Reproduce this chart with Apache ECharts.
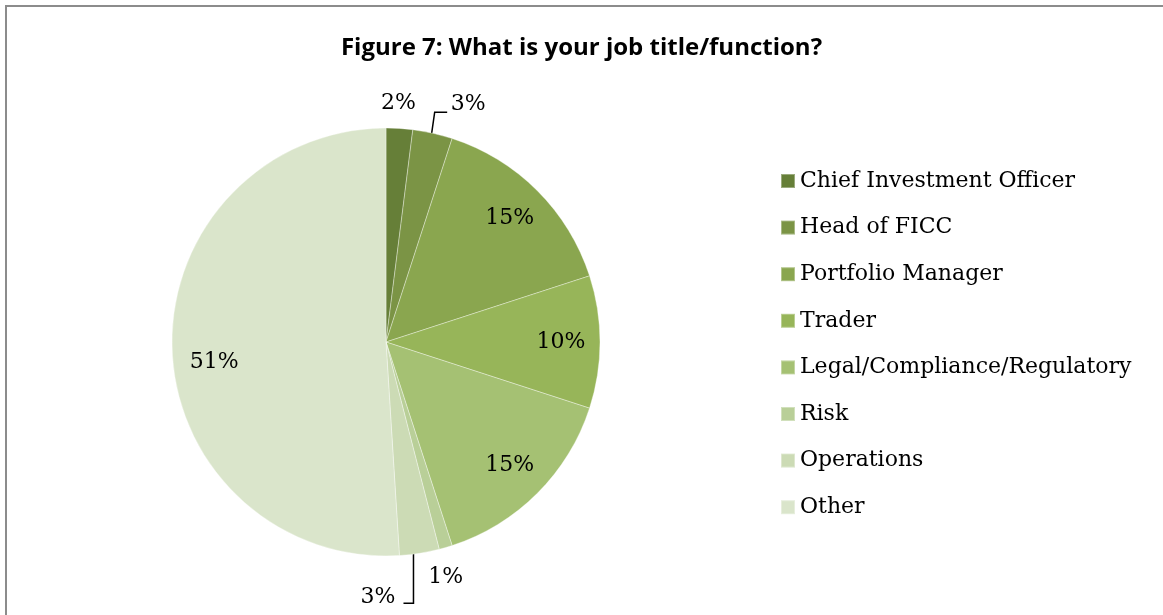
<!DOCTYPE html>
<html>
<head>
<meta charset="utf-8">
<title>Figure 7: What is your job title/function?</title>
<script src="https://cdn.jsdelivr.net/npm/echarts@6/dist/echarts.min.js"></script>
<style>
  html, body { margin: 0; padding: 0; background: #ffffff; overflow: hidden; }
  #frame {
    position: absolute; left: 5px; top: 5px; width: 1200px; height: 700px;
    border: 2px solid #8c8c8c; box-sizing: border-box;
  }
  #chart { position: absolute; left: 0; top: 0; width: 1163px; height: 615px; }
</style>
</head>
<body>
<div id="frame"></div>
<div id="chart"></div>
<script>
// Survey responses by job title / function (percent of respondents)
const categories = [
  'Chief Investment Officer',
  'Head of FICC',
  'Portfolio Manager',
  'Trader',
  'Legal/Compliance/Regulatory',
  'Risk',
  'Operations',
  'Other'
];
const shares = [2, 3, 15, 10, 15, 1, 3, 51];
const sliceColors = [
  '#667f38', '#7b9445', '#8aa64f', '#97b559',
  '#a5c173', '#b9cf98', '#ccdbb5', '#dae5cb'
];

const PIE_CENTER = [386, 342];
const PIE_RADIUS = 214;
const LABEL_FONT = '"DejaVu Serif", "Liberation Serif", serif';

const pieData = categories.map((name, i) => ({
  name: name,
  value: shares[i],
  itemStyle: { color: sliceColors[i] }
}));

// Small slices get their labels outside the pie; the big ones inside.
const isSmall = v => v < 10;

// Callout placement for the small slices, relative to the point where
// the slice's mid-angle meets the rim (first label-line point).
function placeCallout(params) {
  const pts = params.labelLinePoints;
  if (!pts) return {};
  const x0 = pts[0][0], y0 = pts[0][1];
  const flat = [[x0, y0], [x0, y0], [x0, y0]];
  switch (params.dataIndex) {
    case 0: // label straight above the slice, no leader
      return { x: x0 - 1, y: y0 - 25, align: 'center', verticalAlign: 'middle', labelLinePoints: flat };
    case 1: // short leader up then right
      return {
        x: x0 + 18, y: y0 - 29, align: 'left', verticalAlign: 'middle',
        labelLinePoints: [[x0 - 1, y0], [x0 + 2, y0 - 21], [x0 + 14.5, y0 - 21]]
      };
    case 5: // label straight below the slice, no leader
      return { x: x0, y: y0 + 30, align: 'center', verticalAlign: 'middle', labelLinePoints: flat };
    case 6: // leader down then left
      return {
        x: x0 - 24, y: y0 + 44, align: 'right', verticalAlign: 'middle',
        labelLinePoints: [[x0 - 6, y0], [x0 - 6, y0 + 50], [x0 - 16, y0 + 50]]
      };
    default:
      return {};
  }
}

const chart = echarts.init(document.getElementById('chart'), null, { renderer: 'canvas' });

chart.setOption({
  animation: false,
  backgroundColor: 'transparent',
  title: {
    text: 'Figure 7: What is your job title/function?',
    left: 'center',
    top: 31,
    textStyle: {
      fontFamily: '"Open Sans", Lato, sans-serif',
      fontWeight: 'bold',
      fontSize: 24,
      color: '#000000'
    }
  },
  legend: {
    orient: 'vertical',
    left: 780,
    top: 169,
    padding: 0,
    icon: 'rect',
    itemWidth: 14,
    itemHeight: 14,
    itemGap: 22.6,
    selectedMode: false,
    data: categories,
    textStyle: {
      fontFamily: LABEL_FONT,
      fontSize: 22,
      lineHeight: 24,
      color: '#000000',
      padding: [0, 0, 0, 0]
    }
  },
  series: [
    {
      // slices + outside callouts for the small shares
      name: 'Job title',
      type: 'pie',
      center: PIE_CENTER,
      radius: PIE_RADIUS,
      startAngle: 90,
      clockwise: true,
      avoidLabelOverlap: false,
      silent: true,
      itemStyle: { borderColor: 'rgba(255,255,255,0.35)', borderWidth: 1 },
      label: {
        show: true,
        position: 'outside',
        fontFamily: LABEL_FONT,
        fontSize: 22,
        color: '#000000',
        formatter: p => (isSmall(p.value) ? p.value + '%' : '')
      },
      labelLine: {
        show: true,
        length: 20,
        length2: 10,
        smooth: false,
        lineStyle: { color: '#000000', width: 1.5 }
      },
      labelLayout: placeCallout,
      data: pieData.map(d => isSmall(d.value) ? d : Object.assign({}, d, {
        label: { show: false }, labelLine: { show: false }
      }))
    },
    {
      // transparent ring that centres the inside labels near the rim
      name: 'Job title labels',
      type: 'pie',
      center: PIE_CENTER,
      radius: [130, PIE_RADIUS],
      startAngle: 90,
      clockwise: true,
      silent: true,
      itemStyle: { color: 'rgba(0,0,0,0)', borderWidth: 0 },
      label: {
        show: true,
        position: 'inside',
        fontFamily: LABEL_FONT,
        fontSize: 22,
        color: '#000000',
        formatter: p => (isSmall(p.value) ? '' : p.value + '%')
      },
      labelLine: { show: false },
      data: categories.map((name, i) => ({
        name: name,
        value: shares[i],
        label: name === 'Other' ? { offset: [3, 15] } : undefined
      }))
    }
  ]
});
</script>
</body>
</html>
